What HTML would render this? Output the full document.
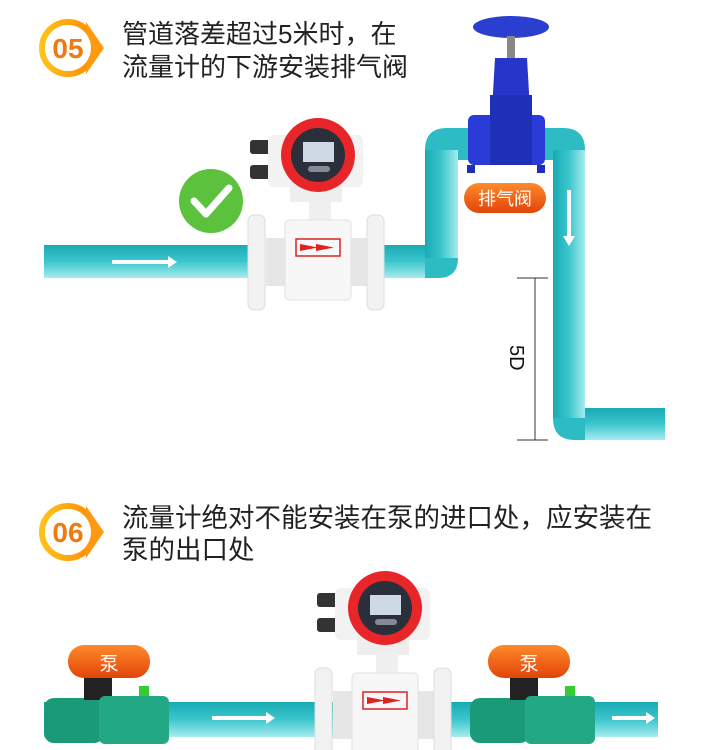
<!DOCTYPE html>
<html><head><meta charset="utf-8"><style>
html,body{margin:0;padding:0;background:#fff;width:703px;height:750px;overflow:hidden}
svg{display:block}
text{font-family:"Liberation Sans","Noto Sans CJK SC",sans-serif}
</style></head><body>
<svg width="703" height="750" viewBox="0 0 703 750" xmlns="http://www.w3.org/2000/svg">
<defs>
<linearGradient id="ph" x1="0" y1="0" x2="0" y2="1"><stop offset="0" stop-color="#18aab4"/><stop offset="0.5" stop-color="#3cc6cc"/><stop offset="1" stop-color="#a6ecef"/></linearGradient>
<linearGradient id="pv" x1="0" y1="0" x2="1" y2="0"><stop offset="0" stop-color="#18aab4"/><stop offset="0.5" stop-color="#3cc6cc"/><stop offset="1" stop-color="#a6ecef"/></linearGradient>
<linearGradient id="og" x1="0" y1="0" x2="0" y2="1"><stop offset="0" stop-color="#ff8a2a"/><stop offset="1" stop-color="#e2440a"/></linearGradient>
<linearGradient id="bd" x1="0" y1="0" x2="1" y2="0"><stop offset="0" stop-color="#ffc21a"/><stop offset="1" stop-color="#ff8a00"/></linearGradient>
<g id="badge">
<circle cx="0" cy="0" r="26" fill="#fff" stroke="url(#bd)" stroke-width="6"/>
<path d="M18 -26 L36 0 L18 26 Z" fill="#ff9a10"/>
<circle cx="0" cy="0" r="23" fill="#fff"/>
</g>
<g id="meter">
<rect x="250" y="140" width="22" height="14" rx="3" fill="#333"/>
<rect x="250" y="165" width="22" height="14" rx="3" fill="#333"/>
<rect x="268" y="135" width="95" height="52" rx="6" fill="#f2f2f2"/>
<rect x="290" y="182" width="52" height="20" fill="#eee"/>
<circle cx="318" cy="155" r="37" fill="#e8262a"/>
<circle cx="318" cy="155" r="27" fill="#2a2f3a"/>
<rect x="303" y="142" width="31" height="20" fill="#cfd9e6"/>
<rect x="308" y="166" width="22" height="6" rx="3" fill="#889"/>
<rect x="309" y="200" width="22" height="22" fill="#f0f0f0"/>
<rect x="266" y="238" width="104" height="48" fill="#e6e6e6"/>
<rect x="248" y="215" width="17" height="95" rx="6" fill="#f2f2f2" stroke="#ddd"/>
<rect x="367" y="215" width="17" height="95" rx="6" fill="#f2f2f2" stroke="#ddd"/>
<rect x="285" y="220" width="66" height="80" rx="4" fill="#f7f7f7" stroke="#e2e2e2"/>
<rect x="296" y="239" width="44" height="17" fill="none" stroke="#d22" stroke-width="1.5"/>
<path d="M300 244 L318 247.5 L300 251 Z M316 244 L334 247.5 L316 251 Z" fill="#d22"/>
</g>
<g id="pump">
<rect x="0" y="20" width="60" height="45" rx="10" fill="#1a9a78"/>
<rect x="40" y="0" width="28" height="22" fill="#222"/>
<rect x="55" y="18" width="70" height="48" rx="6" fill="#23a886"/>
<rect x="95" y="8" width="10" height="10" fill="#3c3"/>
</g>
</defs>

<!-- section 1 -->
<use href="#badge" x="68" y="48"/>
<text x="68" y="58" font-size="28" font-weight="bold" fill="#f07a10" text-anchor="middle">05</text>
<text x="122" y="43" font-size="26" fill="#222">管道落差超过5米时，在</text>
<text x="122" y="76" font-size="26" fill="#222">流量计的下游安装排气阀</text>

<rect x="44" y="245" width="210" height="33" fill="url(#ph)"/>
<rect x="380" y="245" width="60" height="33" fill="url(#ph)"/>
<path d="M425 278 L425 150 Q425 128 447 128 L563 128 Q585 128 585 150 L585 408 L665 408 L665 440 L575 440 Q553 440 553 418 L553 160 L458 160 L458 258 Q458 278 438 278 Z" fill="#2dbcc4"/>
<rect x="425" y="150" width="33" height="108" fill="url(#pv)"/>
<rect x="553" y="150" width="32" height="268" fill="url(#pv)"/>
<rect x="585" y="408" width="80" height="32" fill="url(#ph)"/>
<path d="M112 260 H168 V256 L177 262 L168 268 V264 H112 Z" fill="#fff"/>
<path d="M567 190 V236 H563 L569 246 L575 236 H571 V190 Z" fill="#fff"/>

<!-- valve -->
<ellipse cx="511" cy="27" rx="38" ry="11" fill="#2a3fd0"/>
<rect x="507" y="36" width="8" height="22" fill="#888"/>
<path d="M495 58 H527 L530 110 H492 Z" fill="#2636c8"/>
<rect x="468" y="115" width="77" height="50" rx="6" fill="#2a3bd8"/>
<rect x="490" y="95" width="42" height="70" fill="#1e2fb8"/>
<rect x="467" y="165" width="8" height="8" fill="#1e2fb8"/><rect x="537" y="165" width="8" height="8" fill="#1e2fb8"/>
<rect x="464" y="183" width="82" height="30" rx="15" fill="url(#og)"/>
<text x="505" y="205" font-size="18" fill="#fff" text-anchor="middle">排气阀</text>

<circle cx="211" cy="201" r="32" fill="#5cc13c"/>
<path d="M194 201 L206 214 L229 188" fill="none" stroke="#fff" stroke-width="7" stroke-linecap="round" stroke-linejoin="round"/>
<use href="#meter"/>

<line x1="535" y1="278" x2="535" y2="440" stroke="#333" stroke-width="1"/>
<line x1="517" y1="278" x2="548" y2="278" stroke="#333"/>
<line x1="517" y1="440" x2="548" y2="440" stroke="#333"/>
<text x="0" y="0" font-size="20" fill="#111" transform="translate(510,345) rotate(90)">5D</text>

<!-- section 2 -->
<use href="#badge" x="68" y="532"/>
<text x="68" y="542" font-size="28" font-weight="bold" fill="#f07a10" text-anchor="middle">06</text>
<text x="122" y="527" font-size="26.5" fill="#222">流量计绝对不能安装在泵的进口处，应安装在</text>
<text x="122" y="559" font-size="26.5" fill="#222">泵的出口处</text>

<rect x="44" y="702" width="614" height="35" fill="url(#ph)"/>
<use href="#pump" x="44" y="678"/>
<use href="#pump" x="470" y="678"/>
<rect x="68" y="645" width="82" height="33" rx="16" fill="url(#og)"/>
<text x="109" y="670" font-size="19" fill="#fff" text-anchor="middle">泵</text>
<rect x="488" y="645" width="82" height="33" rx="16" fill="url(#og)"/>
<text x="529" y="670" font-size="19" fill="#fff" text-anchor="middle">泵</text>
<use href="#meter" x="67" y="453"/>
<path d="M212 716 H266 V712 L275 718 L266 724 V720 H212 Z" fill="#fff"/>
<path d="M612 716 H646 V712 L655 718 L646 724 V720 H612 Z" fill="#fff"/>
</svg>
</body></html>
